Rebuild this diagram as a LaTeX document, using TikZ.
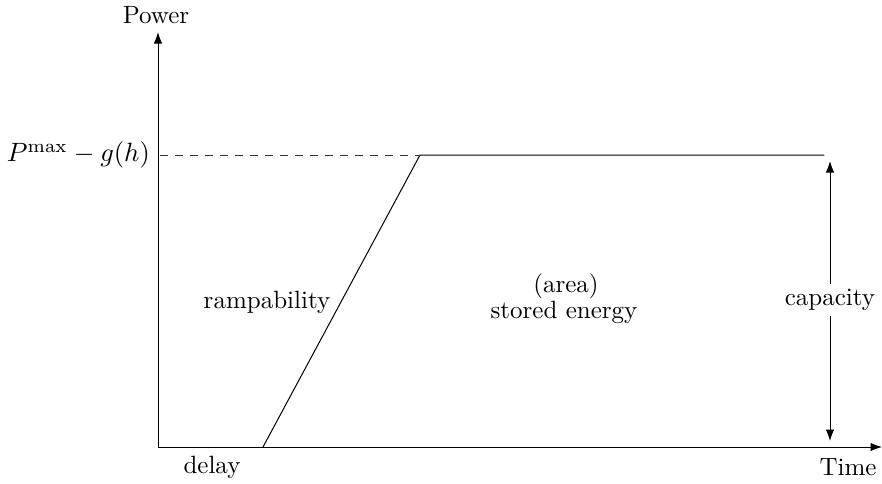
\documentclass[tikz,border=0pt]{standalone}
\usepackage{tikz}
\usetikzlibrary{arrows.meta}

\begin{document}
\begin{tikzpicture}
		[x=0.4pt, y=0.4pt,
		axis/.style={-{Latex[length=4.6pt,width=3.4pt]},black},
		curve/.style={black,line cap=round},
		level/.style={black!80,dashed},
		span/.style={{Latex[length=4.6pt,width=3.4pt]}-{Latex[length=4.6pt,width=3.4pt]},black},
		lbl/.style={inner sep=1pt}
		]
        \useasboundingbox (0,0) rectangle (882,483);

        % axes
        \coordinate (O) at (158,36);
        \coordinate (ytop) at (158,451);
        \coordinate (xend) at (882,36);
	    \draw[axis] (O) -- (ytop);
	    \draw[axis] (O) -- (xend);
        \node[lbl] (power) at (156,468) {Power};
        \node[lbl] (time) at (848,16) {Time};
        \node[lbl] (delay) at (212,16) {delay};

        % power profile
        \coordinate (rs) at (263,36);
        \coordinate (rt) at (420,328);
        \coordinate (fe) at (824,328);
        \coordinate (lv) at (160,328);
        \draw[curve] (rs) -- (rt) -- (fe);
        \draw[level] (lv) -- (rt);
        \node[lbl,anchor=east,scale=1.06] (pmax) at (153,328) {$P^{\max}-g(h)$};

        % labels
        \node[lbl] (ramp) at (267,181) {rampability};
        \node[lbl] (area) at (566,197) {(area)};
        \node[lbl] (energy) at (564,171) {stored energy};

        % capacity
        \coordinate (ct) at (830,322);
        \coordinate (cb) at (830,42);
        \draw[span] (cb) -- (ct);
        \node[lbl,fill=white,inner sep=2pt] (cap) at (830,183) {capacity};
\end{tikzpicture}
\end{document}
